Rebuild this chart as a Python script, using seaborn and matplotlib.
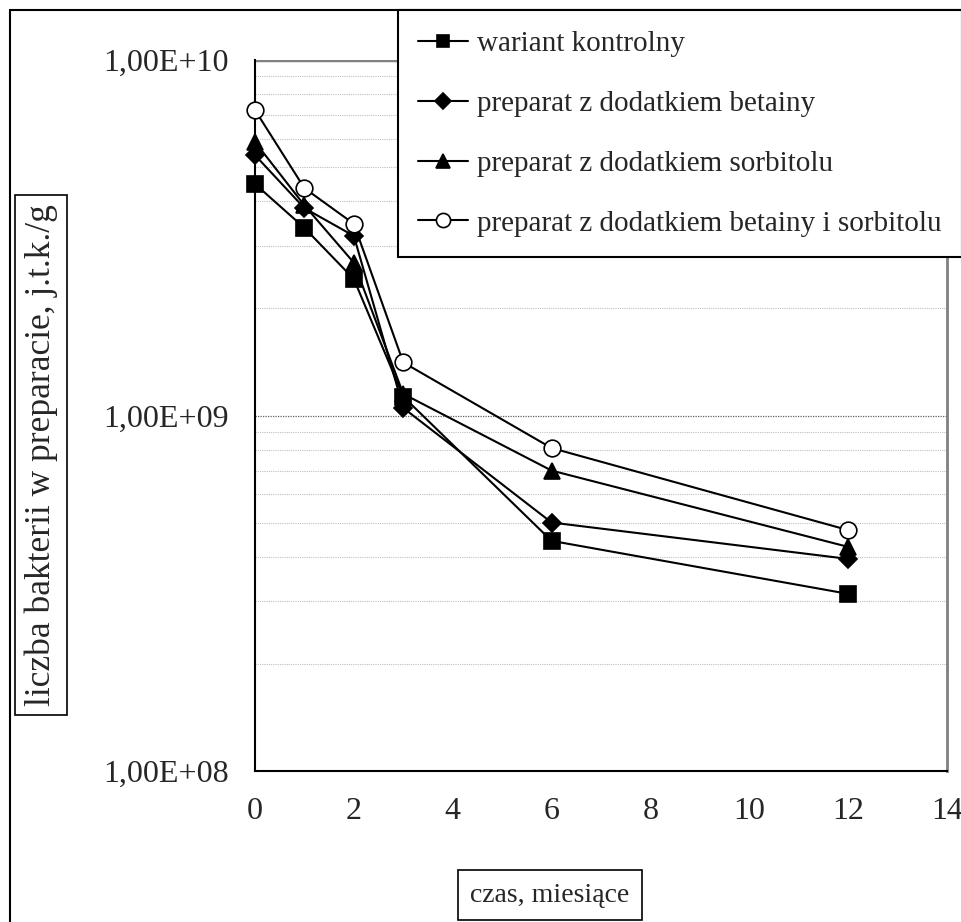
import numpy as np
import pandas as pd
import matplotlib
matplotlib.use('Agg')
import matplotlib.pyplot as plt
import seaborn as sns
from matplotlib.patches import Rectangle
from matplotlib.ticker import FixedLocator, FuncFormatter, LogLocator, NullFormatter

# Data
czas = [0, 1, 2, 3, 6, 12]
kontrolny = [4.48e9, 3.37e9, 2.42e9, 1.13e9, 4.44e8, 3.15e8]
betaina = [5.40e9, 3.83e9, 3.20e9, 1.05e9, 5.00e8, 3.95e8]
sorbitol = [5.88e9, 3.90e9, 2.69e9, 1.15e9, 7.00e8, 4.27e8]
betaina_sorbitol = [7.23e9, 4.36e9, 3.46e9, 1.41e9, 8.10e8, 4.76e8]

labels = ['wariant kontrolny',
          'preparat z dodatkiem betainy',
          'preparat z dodatkiem sorbitolu',
          'preparat z dodatkiem betainy i sorbitolu']
series = [kontrolny, betaina, sorbitol, betaina_sorbitol]
markers = ['s', 'D', '^', 'o']
marker_sizes = [11, 9, 12, 12]
face_colors = ['black', 'black', 'black', 'white']

sns.set_style('white')
plt.rcParams['font.family'] = ['Liberation Serif', 'DejaVu Serif']

W, H = 961, 922
fig = plt.figure(figsize=(W / 100, H / 100), dpi=100)
ax = fig.add_axes([255 / W, 1 - 771 / H, (947 - 255) / W, (771 - 60) / H])

for vals, lab, m, ms, fc in zip(series, labels, markers, marker_sizes, face_colors):
    df = pd.DataFrame({'czas': czas, 'liczba': vals})
    sns.lineplot(data=df, x='czas', y='liczba', ax=ax, color='black', linewidth=1.5,
                 marker=m, markersize=ms, markerfacecolor=fc, markeredgecolor='black',
                 markeredgewidth=1.2, label=lab, legend=False, zorder=3, clip_on=False)

ax.set_yscale('log')
ax.set_ylim(1e8, 1e10)
ax.set_xlim(0, 14)
ax.xaxis.set_major_locator(FixedLocator([0, 2, 4, 6, 8, 10, 12, 14]))
ax.yaxis.set_major_locator(FixedLocator([1e8, 1e9, 1e10]))
ax.yaxis.set_major_formatter(FuncFormatter(lambda v, p: '1,00E+%02d' % int(round(np.log10(v)))))
ax.yaxis.set_minor_locator(LogLocator(base=10, subs=np.arange(2, 10)))
ax.yaxis.set_minor_formatter(NullFormatter())

ax.grid(False)
ax.grid(True, which='minor', axis='y', color='#c0c0c0', linestyle=(0, (1, 1)), linewidth=0.8)
ax.axhline(1e9, color='#606060', linestyle=(0, (1, 1)), linewidth=0.9, zorder=1)
ax.axhline(1e10, color='#808080', linewidth=2.5, zorder=1)

ax.tick_params(axis='both', which='major', direction='out', length=6, width=1.5,
               color='black', labelsize=23, pad=13)
ax.tick_params(axis='y', which='minor', length=0)
ax.set_xlabel('')
ax.set_ylabel('')

for side in ['left', 'bottom']:
    ax.spines[side].set_color('black')
    ax.spines[side].set_linewidth(1.5)
ax.spines['top'].set_visible(False)
ax.spines['right'].set_color('#808080')
ax.spines['right'].set_linewidth(2)

# outer chart frame (cut at right and bottom)
fig.patches.append(Rectangle((10 / W, -0.1), 1.2, 1.1 - 10 / H, transform=fig.transFigure,
                             fill=False, edgecolor='black', linewidth=1.5, zorder=0))

handles, labs = ax.get_legend_handles_labels()
leg = fig.legend(handles, labs, loc='upper left', bbox_to_anchor=(398 / W, 1 - 10 / H),
                 bbox_transform=fig.transFigure, borderaxespad=0, fontsize=21,
                 frameon=True, fancybox=False, shadow=False, edgecolor='black',
                 framealpha=1, handlelength=1.7, handletextpad=0.3, labelspacing=1.15,
                 borderpad=0.7, markerscale=0.85)
leg.get_frame().set_linewidth(1.5)

fig.text(41 / W, 1 - 455 / H, 'liczba bakterii w preparacie, j.t.k./g', rotation=90,
         ha='center', va='center', fontsize=25.5,
         bbox=dict(boxstyle='square,pad=0.25', facecolor='white', edgecolor='black', linewidth=1.2))
fig.text(550 / W, 1 - 895 / H, 'czas, miesiące', ha='center', va='center', fontsize=20,
         bbox=dict(boxstyle='square,pad=0.45', facecolor='white', edgecolor='black', linewidth=1.2))

fig.savefig('out.png', dpi=100, facecolor='white')
